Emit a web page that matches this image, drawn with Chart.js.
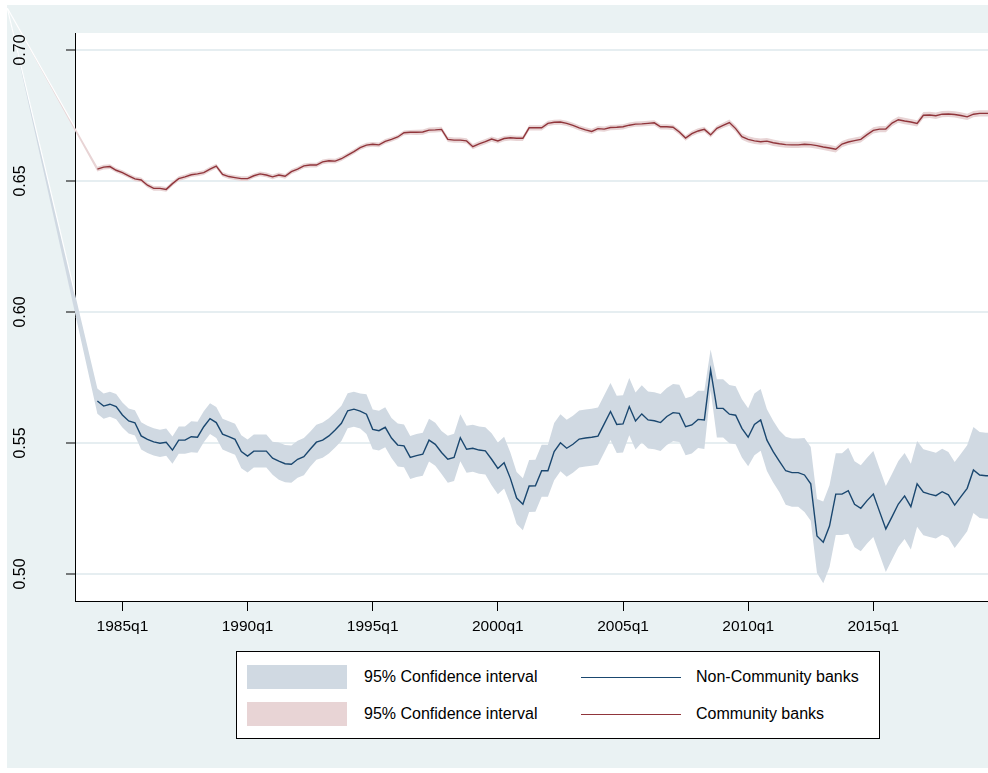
<!DOCTYPE html>
<html>
<head>
<meta charset="utf-8">
<script src="https://cdn.jsdelivr.net/npm/chart.js@4.4.1/dist/chart.umd.min.js"></script>
<style>
  html, body { margin: 0; padding: 0; background: #ffffff; }
  body { width: 988px; height: 773px; position: relative; overflow: hidden;
         font-family: "Liberation Sans", Arial, sans-serif; }
  #wrap { position: absolute; left: 7px; top: 5px; width: 981px; height: 763px; }
  #legend { position: absolute; left: 236px; top: 651px; width: 642px; height: 86px;
            border: 1px solid #000; background: #fff; }
  .sw { position: absolute; width: 100px; height: 24px; }
  .ln { position: absolute; width: 100px; height: 0; border-top: 1.4px solid; }
  .tx { position: absolute; font-size: 16px; color: #000; line-height: 18px; white-space: nowrap; }
</style>
</head>
<body>
<div id="wrap"><canvas id="c" width="981" height="763"></canvas></div>
<div id="legend"></div>
<script>
// Quarterly series, first observation 1984q1
const firstYear = 1984;

// Non-Community banks: point estimate and 95% CI half-width
const nonCommunityBanks = [
  0.5660, 0.5641, 0.5648, 0.5639, 0.5607, 0.5584, 0.5577, 0.5527, 0.5514, 0.5504,
  0.5499, 0.5503, 0.5473, 0.5511, 0.5511, 0.5524, 0.5522, 0.5562, 0.5593, 0.5578,
  0.5534, 0.5524, 0.5514, 0.5467, 0.5450, 0.5469, 0.5469, 0.5469, 0.5442, 0.5431,
  0.5421, 0.5419, 0.5438, 0.5448, 0.5476, 0.5503, 0.5511, 0.5527, 0.5550, 0.5575,
  0.5623, 0.5629, 0.5622, 0.5610, 0.5552, 0.5547, 0.5560, 0.5519, 0.5492, 0.5489,
  0.5445, 0.5452, 0.5457, 0.5511, 0.5495, 0.5464, 0.5438, 0.5445, 0.5520, 0.5476,
  0.5480, 0.5473, 0.5470, 0.5438, 0.5403, 0.5425, 0.5365, 0.5290, 0.5266, 0.5336,
  0.5337, 0.5394, 0.5394, 0.5467, 0.5501, 0.5480, 0.5495, 0.5515, 0.5519, 0.5522,
  0.5526, 0.5573, 0.5620, 0.5571, 0.5573, 0.5639, 0.5584, 0.5611, 0.5588, 0.5585,
  0.5578, 0.5601, 0.5616, 0.5613, 0.5562, 0.5569, 0.5590, 0.5588, 0.5779, 0.5632,
  0.5632, 0.5610, 0.5606, 0.5556, 0.5522, 0.5571, 0.5588, 0.5511, 0.5467, 0.5430,
  0.5394, 0.5387, 0.5387, 0.5378, 0.5344, 0.5145, 0.5121, 0.5183, 0.5305, 0.5305,
  0.5318, 0.5266, 0.5251, 0.5280, 0.5305, 0.5238, 0.5172, 0.5219, 0.5267, 0.5298,
  0.5257, 0.5344, 0.5312, 0.5305, 0.5299, 0.5314, 0.5302, 0.5263, 0.5295, 0.5327,
  0.5397, 0.5378, 0.5375, 0.5375
];
const nonCommunityCI = [
  .0048, .0048, .0048, .0048, .0048, .0048, .0048, .0052, .0052, .0052,
  .0052, .0052, .0052, .0052, .0052, .0059, .0059, .0059, .0059, .0059,
  .0059, .0059, .0059, .0063, .0063, .0063, .0063, .0063, .0063, .0071,
  .0071, .0071, .0071, .0071, .0067, .0067, .0067, .0067, .0067, .0067,
  .0067, .0067, .0067, .0076, .0076, .0076, .0076, .0076, .0082, .0082,
  .0082, .0082, .0082, .0082, .0082, .0082, .0090, .0090, .0090, .0090,
  .0090, .0090, .0090, .0099, .0099, .0099, .0099, .0099, .0099, .0099,
  .0099, .0099, .0099, .0109, .0109, .0109, .0109, .0109, .0109, .0109,
  .0109, .0109, .0109, .0109, .0109, .0109, .0109, .0109, .0109, .0109,
  .0109, .0109, .0109, .0109, .0109, .0109, .0109, .0111, .0078, .0111,
  .0111, .0111, .0111, .0111, .0111, .0118, .0118, .0118, .0118, .0118,
  .0130, .0130, .0130, .0141, .0141, .0141, .0156, .0156, .0156, .0156,
  .0164, .0164, .0164, .0164, .0164, .0164, .0164, .0164, .0164, .0164,
  .0164, .0164, .0164, .0164, .0164, .0164, .0164, .0164, .0164, .0164,
  .0164, .0164, .0164, .0164
];

// Community banks: point estimate and 95% CI half-width
const communityBanks = [
  0.6545, 0.6553, 0.6555, 0.6541, 0.6532, 0.6520, 0.6508, 0.6504, 0.6484, 0.6472,
  0.6472, 0.6468, 0.6490, 0.6509, 0.6516, 0.6524, 0.6527, 0.6532, 0.6545, 0.6557,
  0.6525, 0.6517, 0.6513, 0.6509, 0.6509, 0.6520, 0.6527, 0.6523, 0.6516, 0.6523,
  0.6518, 0.6536, 0.6545, 0.6558, 0.6561, 0.6561, 0.6573, 0.6577, 0.6576, 0.6585,
  0.6599, 0.6612, 0.6627, 0.6637, 0.6640, 0.6638, 0.6651, 0.6659, 0.6668, 0.6684,
  0.6686, 0.6686, 0.6687, 0.6694, 0.6695, 0.6697, 0.6659, 0.6656, 0.6656, 0.6653,
  0.6631, 0.6642, 0.6650, 0.6660, 0.6653, 0.6662, 0.6665, 0.6663, 0.6663, 0.6703,
  0.6703, 0.6703, 0.6720, 0.6724, 0.6725, 0.6720, 0.6712, 0.6703, 0.6695, 0.6689,
  0.6700, 0.6698, 0.6704, 0.6705, 0.6707, 0.6713, 0.6717, 0.6718, 0.6720, 0.6722,
  0.6707, 0.6707, 0.6705, 0.6687, 0.6664, 0.6681, 0.6691, 0.6697, 0.6676, 0.6701,
  0.6712, 0.6723, 0.6700, 0.6669, 0.6659, 0.6653, 0.6650, 0.6652, 0.6646, 0.6642,
  0.6639, 0.6638, 0.6638, 0.6640, 0.6639, 0.6635, 0.6630, 0.6626, 0.6621, 0.6641,
  0.6649, 0.6654, 0.6659, 0.6677, 0.6693, 0.6698, 0.6698, 0.6721, 0.6734, 0.6729,
  0.6725, 0.6720, 0.6751, 0.6752, 0.6749, 0.6755, 0.6756, 0.6754, 0.6750, 0.6745,
  0.6755, 0.6758, 0.6758, 0.6758
];
const communityCI = [
  .0009, .0009, .0009, .0009, .0009, .0009, .0009, .0009, .0009, .0009,
  .0009, .0009, .0009, .0009, .0009, .0009, .0009, .0009, .0009, .0009,
  .0009, .0009, .0009, .0009, .0009, .0009, .0009, .0009, .0009, .0009,
  .0009, .0009, .0009, .0009, .0009, .0009, .0009, .0009, .0009, .0009,
  .0009, .0009, .0009, .0009, .0009, .0009, .0009, .0009, .0009, .0009,
  .0009, .0010, .0010, .0010, .0010, .0010, .0010, .0010, .0010, .0010,
  .0010, .0010, .0010, .0010, .0010, .0010, .0010, .0010, .0010, .0010,
  .0010, .0010, .0010, .0010, .0010, .0010, .0010, .0010, .0010, .0010,
  .0010, .0010, .0010, .0010, .0010, .0010, .0010, .0010, .0010, .0010,
  .0010, .0010, .0010, .0010, .0010, .0010, .0010, .0010, .0010, .0010,
  .0010, .0012, .0012, .0012, .0012, .0012, .0012, .0012, .0012, .0012,
  .0012, .0012, .0012, .0012, .0012, .0012, .0012, .0012, .0012, .0012,
  .0012, .0012, .0012, .0012, .0012, .0012, .0012, .0012, .0012, .0012,
  .0012, .0012, .0012, .0012, .0012, .0012, .0012, .0012, .0012, .0012,
  .0012, .0012, .0012, .0012
];

// The interval series carry one earlier observation, left of the plotted window
const ciLeadPeriod = 1980.40;
const ciLeadValue = 0.716;

// Axis ticks
const xTickYears = [1985, 1990, 1995, 2000, 2005, 2010, 2015];
const yTickValues = [0.50, 0.55, 0.60, 0.65, 0.70];

const seriesNames = ['Non-Community banks', 'Community banks'];
const ciLabel = '95% Confidence interval';

const colors = {
  page: '#eaf2f3',
  plot: '#ffffff',
  grid: '#e6eef1',
  ncbLine: '#1a476f',
  ncbBand: '#d0d9e2',
  cbLine: '#90353b',
  cbBand: '#e8d4d5'
};

const periods = nonCommunityBanks.map((_, i) => firstYear + i / 4);
const pts = (vals) => vals.map((v, i) => ({ x: periods[i], y: v }));
const bandPts = (vals, ci, sign) => [{ x: ciLeadPeriod, y: ciLeadValue }]
  .concat(vals.map((v, i) => ({ x: periods[i], y: v + sign * ci[i] })));

Chart.defaults.font.family = '"Liberation Sans", Arial, sans-serif';

// Page background, white plot region and the bands' lead-in wedges left of the plot
const backdrop = {
  id: 'backdrop',
  beforeDraw(chart) {
    const { ctx, chartArea: a, width, height } = chart;
    ctx.save();
    ctx.fillStyle = colors.page;
    ctx.fillRect(0, 0, width, height);
    ctx.fillStyle = colors.plot;
    ctx.fillRect(a.left, a.top, a.right - a.left, a.bottom - a.top);

    ctx.beginPath();
    ctx.rect(0, 0, a.left, height);
    ctx.clip();
    [[0, 1, colors.ncbBand], [2, 3, colors.cbBand]].forEach(([u, l, col]) => {
      const up = chart.getDatasetMeta(u).data;
      const lo = chart.getDatasetMeta(l).data;
      ctx.beginPath();
      ctx.moveTo(up[0].x, up[0].y);
      ctx.lineTo(up[1].x, up[1].y);
      ctx.lineTo(lo[1].x, lo[1].y);
      ctx.lineTo(lo[0].x, lo[0].y);
      ctx.closePath();
      ctx.fillStyle = col;
      ctx.fill();
      ctx.beginPath();
      ctx.moveTo(up[0].x, up[0].y);
      ctx.lineTo(up[1].x, up[1].y);
      ctx.strokeStyle = '#ffffff';
      ctx.lineWidth = 1.2;
      ctx.stroke();
    });
    ctx.restore();
  }
};

const clear = 'rgba(0,0,0,0)';
const bandSet = (label, data, fill, color) => ({
  label, data, fill, backgroundColor: color, borderColor: clear, borderWidth: 0,
  pointRadius: 0, order: 2
});

const chart = new Chart(document.getElementById('c'), {
  type: 'line',
  data: {
    datasets: [
      bandSet(ciLabel, bandPts(nonCommunityBanks, nonCommunityCI, 1), '+1', colors.ncbBand),
      bandSet(ciLabel, bandPts(nonCommunityBanks, nonCommunityCI, -1), false, colors.ncbBand),
      bandSet(ciLabel, bandPts(communityBanks, communityCI, 1), '+1', colors.cbBand),
      bandSet(ciLabel, bandPts(communityBanks, communityCI, -1), false, colors.cbBand),
      { label: seriesNames[0], data: pts(nonCommunityBanks), borderColor: colors.ncbLine,
        borderWidth: 1.4, pointRadius: 0, fill: false, order: 1 },
      { label: seriesNames[1], data: pts(communityBanks), borderColor: colors.cbLine,
        borderWidth: 1.4, pointRadius: 0, fill: false, order: 1 }
    ]
  },
  options: {
    responsive: false,
    animation: false,
    devicePixelRatio: 1,
    layout: { padding: { top: 28, left: 0, right: 0, bottom: 0 } },
    elements: { line: { tension: 0 } },
    plugins: { legend: { display: false }, tooltip: { enabled: false } },
    scales: {
      x: {
        type: 'linear',
        min: 1983.106,
        max: 2019.582,
        afterFit(s) { s.height = 167; s.paddingLeft = 0; s.paddingRight = 0; },
        afterBuildTicks(s) { s.ticks = xTickYears.map(v => ({ value: v })); },
        ticks: {
          callback: v => v + 'q1',
          autoSkip: false, maxRotation: 0, minRotation: 0,
          padding: 6, color: '#000', font: { size: 15.5 }
        },
        grid: { display: true, drawOnChartArea: false, drawTicks: true,
                tickLength: 10, tickColor: '#000', tickWidth: 1 },
        border: { display: true, color: '#000', width: 1 }
      },
      y: {
        type: 'linear',
        min: 0.48969,
        max: 0.70649,
        afterFit(s) { s.width = 68; s.paddingTop = 0; s.paddingBottom = 0; },
        afterBuildTicks(s) { s.ticks = yTickValues.map(v => ({ value: v })); },
        ticks: {
          callback: v => v.toFixed(2),
          minRotation: 90, maxRotation: 90, crossAlign: 'center',
          padding: 29.5, color: '#000', font: { size: 16 }
        },
        grid: { color: colors.grid, lineWidth: 2, drawTicks: true,
                tickLength: 9, tickColor: '#000', tickWidth: 1 },
        border: { display: true, color: '#000', width: 1 }
      }
    }
  },
  plugins: [backdrop]
});

// Legend: interval swatch + label, series line + name, one row per bank group
const legend = document.getElementById('legend');
[[0, 4], [2, 5]].forEach(([bandIdx, lineIdx], r) => {
  const band = chart.data.datasets[bandIdx];
  const line = chart.data.datasets[lineIdx];
  const top = 13 + r * 37;
  const sw = document.createElement('div');
  sw.className = 'sw';
  sw.style.left = '10px'; sw.style.top = top + 'px';
  sw.style.background = band.backgroundColor;
  legend.appendChild(sw);
  const t1 = document.createElement('div');
  t1.className = 'tx'; t1.textContent = band.label;
  t1.style.left = '127px'; t1.style.top = (top + 3) + 'px';
  legend.appendChild(t1);
  const ln = document.createElement('div');
  ln.className = 'ln';
  ln.style.left = '344px'; ln.style.top = (top + 12) + 'px';
  ln.style.borderTopColor = line.borderColor;
  legend.appendChild(ln);
  const t2 = document.createElement('div');
  t2.className = 'tx'; t2.textContent = line.label;
  t2.style.left = '459px'; t2.style.top = (top + 3) + 'px';
  legend.appendChild(t2);
});
</script>
</body>
</html>
